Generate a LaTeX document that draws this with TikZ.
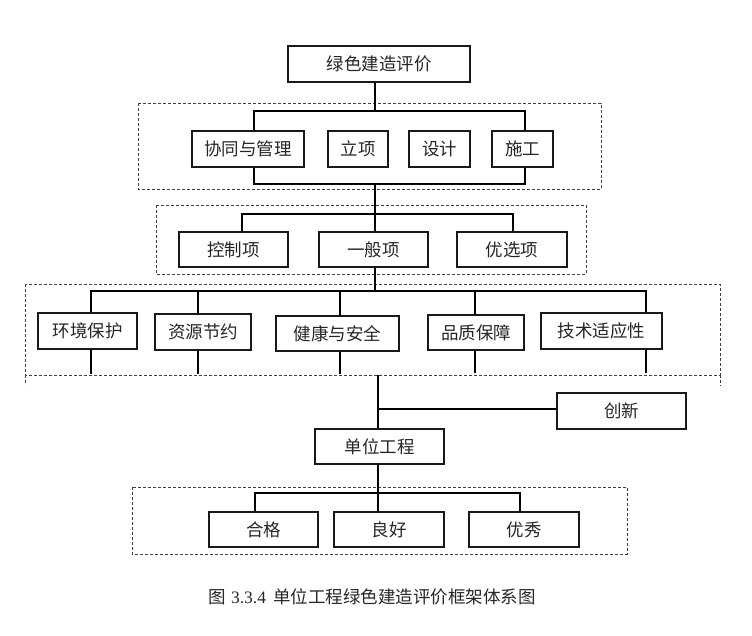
\documentclass[tikz,border=0pt]{standalone}
\usepackage{fontspec}
\newfontfamily\cjk{Noto Sans CJK SC}
\newfontfamily\serifnum{Liberation Serif}
\begin{document}
\begin{tikzpicture}[x=1pt,y=-1pt,
  box/.style={draw=black!90,line width=1.3pt,fill=white,inner sep=0pt,
    font=\cjk\fontsize{17.5}{20}\selectfont,text=black!85},
  conn/.style={draw=black,line width=1.6pt},
  grp/.style={draw=black!75,line width=0.8pt,dash pattern=on 3pt off 2pt}]
\useasboundingbox (0,0) rectangle (752,635);
% group frames
\draw[grp] (138,103) rectangle (601,189);
\draw[grp] (156,205) rectangle (586,274);
\draw[grp] (25,284) rectangle (720,375);
\draw[grp] (25,375) -- (25,385);
\draw[grp] (720,375) -- (720,386);
\draw[grp] (132,487) rectangle (627,554);
% nodes
\node[box,minimum width=182pt,minimum height=36pt] (top) at (379,64) {绿色建造评价};
\node[box,minimum width=112pt,minimum height=36pt] (xt) at (248,149) {协同与管理};
\node[box,minimum width=60pt,minimum height=36pt] (lx) at (358,149) {立项};
\node[box,minimum width=61pt,minimum height=36pt] (sj) at (439.5,149) {设计};
\node[box,minimum width=61pt,minimum height=36pt] (sg) at (522.5,149) {施工};
\node[box,minimum width=109pt,minimum height=35pt] (kz) at (233.5,249.5) {控制项};
\node[box,minimum width=109pt,minimum height=35pt] (yb) at (373.5,249.5) {一般项};
\node[box,minimum width=110pt,minimum height=35pt] (yxx) at (512,249.5) {优选项};
\node[box,minimum width=99pt,minimum height=36pt] (hj) at (87.5,331) {环境保护};
\node[box,minimum width=96pt,minimum height=36pt] (zy) at (203,332) {资源节约};
\node[box,minimum width=123pt,minimum height=35pt] (jk) at (337.5,333.5) {健康与安全};
\node[box,minimum width=96pt,minimum height=35pt] (pz) at (476,332.5) {品质保障};
\node[box,minimum width=121pt,minimum height=36pt] (js) at (601.5,331) {技术适应性};
\node[box,minimum width=129pt,minimum height=36pt] (cx) at (621.5,411) {创新};
\node[box,minimum width=129pt,minimum height=35pt] (dw) at (379.5,446.5) {单位工程};
\node[box,minimum width=109pt,minimum height=35pt] (hg) at (263.5,529.5) {合格};
\node[box,minimum width=110pt,minimum height=35pt] (lh) at (389,529.5) {良好};
\node[box,minimum width=110pt,minimum height=35pt] (yx) at (524,529.5) {优秀};
% junction coordinates
\coordinate (a1) at (375,111);
\coordinate (b1l) at (254,111);
\coordinate (b1r) at (525,111);
\coordinate (c1l) at (254,184);
\coordinate (c1r) at (525,184);
\coordinate (c1m) at (375,184);
\coordinate (b2l) at (242,214);
\coordinate (b2r) at (513,214);
\coordinate (b2m) at (375,214);
\coordinate (b3m) at (375,291);
\coordinate (b3a) at (91,291);
\coordinate (b3b) at (198,291);
\coordinate (b3c) at (340,291);
\coordinate (b3d) at (475,291);
\coordinate (b3e) at (646,291);
\coordinate (e3a) at (91,374);
\coordinate (e3b) at (198,374);
\coordinate (e3c) at (340,374);
\coordinate (e3d) at (475,373);
\coordinate (e3e) at (646,373);
\coordinate (d0) at (378,375);
\coordinate (d1) at (378,409);
\coordinate (e4l) at (255,493);
\coordinate (e4r) at (520,493);
\coordinate (e4m) at (378,493);
% connectors
\draw[conn] (top.south -| a1) -- (a1);
\draw[conn] (xt.north -| b1l) -- (b1l) -- (b1r) -- (sg.north -| b1r);
\draw[conn] (xt.south -| c1l) -- (c1l) -- (c1r) -- (sg.south -| c1r);
\draw[conn] (c1m) -- (yb.north -| c1m);
\draw[conn] (kz.north -| b2l) -- (b2l) -- (b2r) -- (yxx.north -| b2r);
\draw[conn] (yb.south -| b3m) -- (b3m);
\draw[conn] (hj.north -| b3a) -- (b3a) -- (b3e) -- (js.north -| b3e);
\draw[conn] (b3b) -- (zy.north -| b3b);
\draw[conn] (b3c) -- (jk.north -| b3c);
\draw[conn] (b3d) -- (pz.north -| b3d);
\draw[conn] (hj.south -| e3a) -- (e3a);
\draw[conn] (zy.south -| e3b) -- (e3b);
\draw[conn] (jk.south -| e3c) -- (e3c);
\draw[conn] (pz.south -| e3d) -- (e3d);
\draw[conn] (js.south -| e3e) -- (e3e);
\draw[conn] (d0) -- (dw.north -| d0);
\draw[conn] (d1) -- (d1 -| cx.west);
\draw[conn] (dw.south -| e4m) -- (lh.north -| e4m);
\draw[conn] (hg.north -| e4l) -- (e4l) -- (e4r) -- (yx.north -| e4r);
% caption
\node[font=\fontsize{17.5}{20}\selectfont,text=black!85,inner sep=0pt] (cap) at (372,597)
  {{\cjk 图}\hspace{5pt}{\serifnum 3.3.4}\hspace{7pt}{\cjk 单位工程绿色建造评价框架体系图}};
\end{tikzpicture}
\end{document}
